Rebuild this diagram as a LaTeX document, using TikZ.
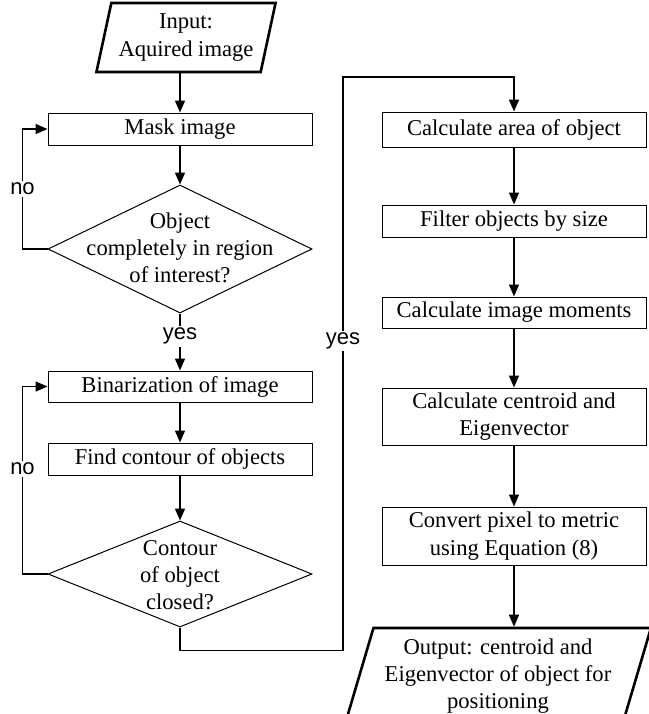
\documentclass[tikz,border=0pt]{standalone}
\usepackage{fontspec}
\setmainfont{Liberation Serif}
\newfontfamily\labelfont{Liberation Sans}
\usetikzlibrary{arrows.meta,positioning,shapes.geometric,calc}

\begin{document}
\begin{tikzpicture}[x=0.5pt,y=-0.5pt,
every node/.style={font=\fontsize{11.3}{13.6}\selectfont},
box/.style={draw,line width=0.5pt,rectangle,minimum width=132pt,minimum height=16pt,inner sep=1pt,align=center},
io/.style={draw,line width=1.3pt,trapezium,trapezium stretches=true,trapezium left angle=74,trapezium right angle=106,align=center,inner sep=0pt},
dec/.style={draw,line width=0.5pt,diamond,minimum width=132pt,inner sep=0pt},
arr/.style={line width=0.8pt,-{Triangle[length=6pt,width=5pt]}},
lbl/.style={fill=white,inner sep=1pt,font=\labelfont\fontsize{11}{13}\selectfont}]
\useasboundingbox (0,0) rectangle (649,714);
% left column
\node[io,minimum width=90pt,minimum height=34.5pt] (input) at (186,37.5) {Input:\\Aquired image};
\node[box] (mask) at (180,129) {Mask image};
\node[dec,minimum height=64pt] (dec1) at (180,249) {};
\node[align=center] (dec1txt) at (180,248) {Object\\completely in region\\of interest?};
\node[box,minimum height=15.5pt] (bin) at (180,386.5) {Binarization of image};
\node[box] (find) at (180,459) {Find contour of objects};
\node[dec,minimum height=53pt] (dec2) at (180,574) {};
\node[align=center] (dec2txt) at (180,575) {Contour\\of object\\closed?};
% right column
\node[box,minimum height=17.5pt] (area) at (514,129.5) {Calculate area of object};
\node[box] (filter) at (514,221) {Filter objects by size};
\node[box,minimum height=15.5pt] (moments) at (514,312.5) {Calculate image moments};
\node[box,minimum height=28.5pt] (centroid) at (514,416.5) {Calculate centroid and\\Eigenvector};
\node[box,minimum height=29pt] (convert) at (514,536) {Convert pixel to metric\\using Equation (8)};
\node[io,trapezium left angle=71,trapezium right angle=109,minimum width=153pt,minimum height=48pt] (output) at (498,676) {Output: centroid and\\Eigenvector of object for\\positioning};
\coordinate (yesup) at (343,77);
% connectors
\draw[arr] (mask.north |- input.south) -- (mask.north);
\draw[arr] (mask) -- (dec1);
\draw[arr] (dec1.west) -- ++(-25,0) |- node[lbl,pos=0.25] (no1) {no} (mask.west);
\draw[arr] (dec1) -- node[lbl,pos=0.4] (yes1) {yes} (bin);
\draw[arr] (bin) -- (find);
\draw[arr] (find) -- (dec2);
\draw[arr] (dec2.west) -- ++(-25,0) |- node[lbl,pos=0.28] (no2) {no} (bin.west);
\draw[arr] (dec2.south) -- ++(0,23) -| node[lbl,pos=0.77] (yes2) {yes} (yesup) -| (area.north);
\draw[arr] (area) -- (filter);
\draw[arr] (filter) -- (moments);
\draw[arr] (moments) -- (centroid);
\draw[arr] (centroid) -- (convert);
\draw[arr] (convert.south) -- (convert.south |- output.north);
\end{tikzpicture}
\end{document}
